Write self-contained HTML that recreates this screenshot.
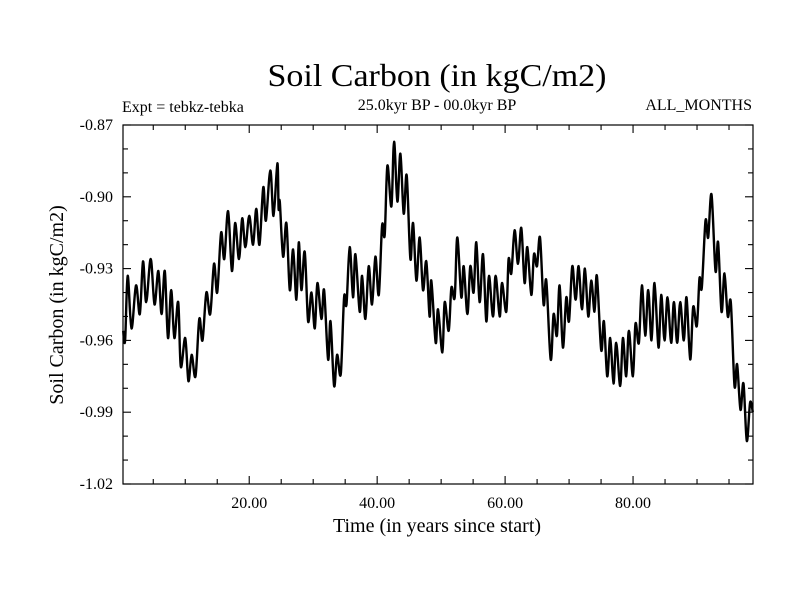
<!DOCTYPE html>
<html><head><meta charset="utf-8"><style>
html,body{margin:0;padding:0;background:#fff;}
svg{display:block;font-family:"Liberation Serif",serif;}
</style></head><body>
<svg id="chart" width="800" height="600" viewBox="0 0 800 600">
<rect width="800" height="600" fill="#fff"/>
<text x="437" y="86" font-size="32" text-anchor="middle" textLength="339" lengthAdjust="spacingAndGlyphs">Soil Carbon (in kgC/m2)</text>
<text x="437" y="110" font-size="16" text-anchor="middle">25.0kyr BP - 00.0kyr BP</text>
<text x="122" y="112" font-size="16">Expt = tebkz-tebka</text>
<text x="752" y="110" font-size="16" text-anchor="end">ALL_MONTHS</text>
<text x="437" y="532" font-size="20" text-anchor="middle">Time (in years since start)</text>
<text x="0" y="0" font-size="20" text-anchor="middle" transform="translate(63,305) rotate(-90)">Soil Carbon (in kgC/m2)</text>
<g id="ticks"></g>
<g id="labels"></g>
<path id="series" fill="none" stroke="#000" stroke-width="2.4" stroke-linejoin="round"/>
<rect x="123" y="125" width="630" height="359" fill="none" stroke="#000" stroke-width="1.2"/>
</svg>
<script>
const times = [0.3,0.6,1.0,1.6,2.3,2.9,3.4,3.9,4.6,5.2,5.8,6.3,6.8,7.3,7.8,8.3,8.9,9.3,10.0,10.5,11.0,11.6,12.2,12.7,13.3,13.9,14.5,15.0,15.6,16.1,16.7,17.3,17.8,18.4,18.9,19.4,20.0,20.6,21.1,21.6,22.2,22.6,23.3,23.8,24.4,24.6,24.78,25.3,25.82,26.34,26.86,27.38,27.75,28.16,28.68,29.2,29.73,30.25,30.66,31.29,31.7,32.33,32.7,33.27,33.73,34.31,34.83,35.2,35.71,36.23,36.6,37.27,37.64,38.16,38.68,39.2,39.72,40.25,40.77,41.18,41.6,42.22,42.64,43.16,43.63,44.15,44.62,45.19,45.61,46.13,46.65,47.17,47.68,48.2,48.47,49.15,49.51,50.19,50.55,51.18,51.6,52.12,52.53,53.16,53.52,54.1,54.56,55.08,55.5,56.02,56.54,57.06,57.48,58.1,58.52,59.15,59.51,60.19,60.55,60.97,61.49,62.01,62.53,63.05,63.47,64.1,64.51,64.98,65.45,66.02,66.44,67.12,67.58,68.1,68.52,69.04,69.56,69.98,70.5,71.02,71.49,72.01,72.48,73.0,73.46,73.98,74.35,75.02,75.44,75.96,76.43,76.95,77.37,77.99,78.41,78.93,79.35,79.97,80.39,80.91,81.38,81.9,82.37,82.89,83.36,83.98,84.4,84.92,85.39,85.96,86.38,86.9,87.37,87.94,88.36,88.93,89.4,89.97,90.39,90.75,91.33,91.74,92.26,92.89,93.3,93.83,94.29,94.81,95.28,95.86,96.27,96.79,97.26,97.78,98.3,98.72];
const values = [-0.956,-0.960,-0.933,-0.955,-0.937,-0.949,-0.927,-0.944,-0.926,-0.945,-0.931,-0.949,-0.931,-0.959,-0.939,-0.959,-0.944,-0.971,-0.959,-0.977,-0.966,-0.975,-0.951,-0.960,-0.940,-0.949,-0.928,-0.940,-0.915,-0.926,-0.906,-0.931,-0.911,-0.926,-0.909,-0.921,-0.908,-0.920,-0.905,-0.920,-0.896,-0.910,-0.889,-0.908,-0.886,-0.905,-0.902,-0.925,-0.911,-0.939,-0.922,-0.943,-0.919,-0.939,-0.923,-0.952,-0.940,-0.955,-0.936,-0.951,-0.939,-0.968,-0.952,-0.979,-0.966,-0.974,-0.942,-0.945,-0.921,-0.942,-0.924,-0.948,-0.933,-0.951,-0.929,-0.945,-0.925,-0.941,-0.912,-0.916,-0.887,-0.904,-0.877,-0.902,-0.882,-0.907,-0.891,-0.926,-0.911,-0.935,-0.917,-0.939,-0.927,-0.950,-0.935,-0.961,-0.947,-0.965,-0.944,-0.956,-0.938,-0.942,-0.917,-0.942,-0.929,-0.949,-0.929,-0.940,-0.919,-0.944,-0.924,-0.952,-0.933,-0.950,-0.933,-0.950,-0.936,-0.948,-0.926,-0.932,-0.914,-0.928,-0.913,-0.936,-0.921,-0.941,-0.924,-0.929,-0.917,-0.945,-0.935,-0.968,-0.949,-0.958,-0.937,-0.963,-0.942,-0.952,-0.929,-0.943,-0.929,-0.947,-0.930,-0.950,-0.935,-0.948,-0.933,-0.964,-0.952,-0.975,-0.959,-0.978,-0.961,-0.979,-0.959,-0.975,-0.956,-0.975,-0.953,-0.961,-0.937,-0.958,-0.939,-0.960,-0.936,-0.963,-0.941,-0.960,-0.942,-0.961,-0.944,-0.961,-0.944,-0.960,-0.942,-0.968,-0.946,-0.954,-0.934,-0.938,-0.910,-0.917,-0.899,-0.931,-0.919,-0.948,-0.932,-0.950,-0.944,-0.979,-0.970,-0.989,-0.978,-1.002,-0.986,-0.990];
const yTickValues = [-0.87,-0.90,-0.93,-0.96,-0.99,-1.02];
const yTickLabels = ["-0.87","-0.90","-0.93","-0.96","-0.99","-1.02"];
const xTickValues = [20,40,60,80];
const xTickLabels = ["20.00","40.00","60.00","80.00"];

const X0=123, X1=753, Y0=125, Y1=484, TMIN=0.27, TMAX=98.75, VMAX=-0.87, VMIN=-1.02;
function xs(t){return X0+(t-TMIN)/(TMAX-TMIN)*(X1-X0);}
function ys(v){return Y0+(VMAX-v)/(VMAX-VMIN)*(Y1-Y0);}
const NS='http://www.w3.org/2000/svg';
const tg=document.getElementById('ticks'), lg=document.getElementById('labels');
function line(x1,y1,x2,y2,name){
  const l=document.createElementNS(NS,'line');
  l.setAttribute('x1',x1);l.setAttribute('y1',y1);l.setAttribute('x2',x2);l.setAttribute('y2',y2);
  l.setAttribute('stroke','#000');l.setAttribute('stroke-width','1.1');
  
  
  tg.appendChild(l);
}
function text(x,y,s,anchor,name){
  const t=document.createElementNS(NS,'text');
  t.setAttribute('x',x);t.setAttribute('y',y);t.setAttribute('font-size','16');t.setAttribute('text-anchor',anchor);
  t.textContent=s;
  
  
  lg.appendChild(t);
}
for(let k=0;k<=15;k++){
  const v=VMAX-k*0.01, y=ys(v), major=(k%3===0), len=major?8:5;
  line(X0,y,X0+len,y,'y-tick');
  line(X1,y,X1-len,y,'y-tick-right');
}
yTickValues.forEach((v,i)=>text(113,ys(v)+5,yTickLabels[i],'end','y-tick-label'));
for(let t=5;t<TMAX;t+=5){
  const x=xs(t), major=(t%20===0), len=major?8:5;
  line(x,Y1,x,Y1-len,'x-tick');
  line(x,Y0,x,Y0+len,'x-tick-top');
}
xTickValues.forEach((t,i)=>text(xs(t),508,xTickLabels[i],'middle','x-tick-label'));
// smooth curve (Catmull-Rom -> Bezier)
const P=times.map((t,i)=>[xs(t),ys(values[i])]);
let d='M'+P[0][0].toFixed(1)+','+P[0][1].toFixed(1);
for(let i=0;i<P.length-1;i++){
  const p0=P[Math.max(0,i-1)],p1=P[i],p2=P[i+1],p3=P[Math.min(P.length-1,i+2)];
  const c1x=p1[0]+(p2[0]-p0[0])/6,c1y=p1[1]+(p2[1]-p0[1])/6;
  const c2x=p2[0]-(p3[0]-p1[0])/6,c2y=p2[1]-(p3[1]-p1[1])/6;
  d+=' C'+c1x.toFixed(1)+','+c1y.toFixed(1)+' '+c2x.toFixed(1)+','+c2y.toFixed(1)+' '+p2[0].toFixed(1)+','+p2[1].toFixed(1);
}
document.getElementById('series').setAttribute('d',d);
</script>
</body></html>
